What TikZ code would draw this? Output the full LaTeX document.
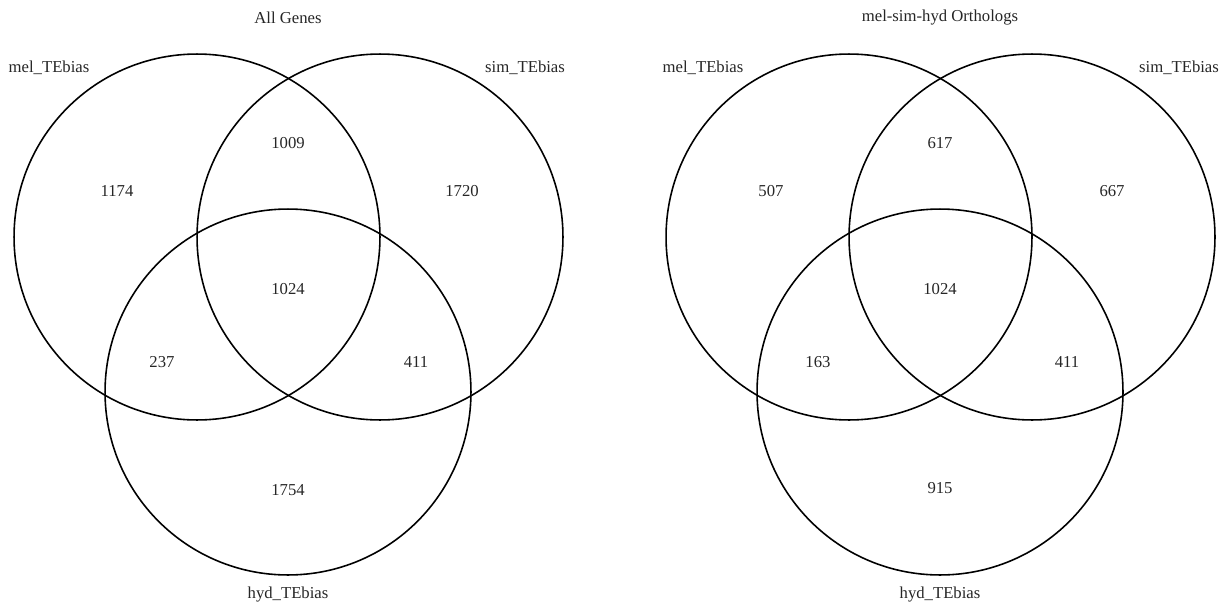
\documentclass[tikz,border=0pt]{standalone}
\usepackage{fontspec}
\setmainfont{Liberation Serif}
\usetikzlibrary{positioning, calc}

\begin{document}
\begin{tikzpicture}[
        x=0.02cm, y=-0.02cm,
        every node/.style={font=\fontsize{9.5}{11}\selectfont, text=black!85},
        setcircle/.style={draw, circle, line width=0.9pt, minimum size=7.32cm, inner sep=0pt},
        setlabel/.style={inner sep=1pt},
        count/.style={inner sep=1pt},
        title/.style={inner sep=1pt},
    ]
    \useasboundingbox (0,0) rectangle (1229,605);

    %% ===== All Genes =====
    \node[title] (titleA) at (288,18) {All Genes};
    \node[setcircle] (melA) at (197,237) {};
    \node[setcircle] (simA) at (380,237) {};
    \node[setcircle] (hydA) at (288,392) {};

    \node[setlabel] (melA_lab) at (49,68) {mel\_TEbias};
    \node[setlabel] (simA_lab) at (525,68) {sim\_TEbias};
    \node[setlabel] (hydA_lab) at (288,594) {hyd\_TEbias};

    \node[count] (a_mel) at (117,191) {1174};
    \node[count] (a_ms)  at (288,143) {1009};
    \node[count] (a_sim) at (462,191) {1720};
    \node[count] (a_all) at (288,289) {1024};
    \node[count] (a_mh)  at (162,362) {237};
    \node[count] (a_sh)  at (416,362) {411};
    \node[count] (a_hyd) at (288,490) {1754};

    %% ===== mel-sim-hyd Orthologs =====
    \node[title] (titleB) at (940,18) {mel-sim-hyd Orthologs};
    \node[setcircle] (melB) at (849,237) {};
    \node[setcircle] (simB) at (1032,237) {};
    \node[setcircle] (hydB) at (940,392) {};

    \node[setlabel] (melB_lab) at (703,68) {mel\_TEbias};
    \node[setlabel] (simB_lab) at (1179,68) {sim\_TEbias};
    \node[setlabel] (hydB_lab) at (940,594) {hyd\_TEbias};

    \node[count] (b_mel) at (771,191) {507};
    \node[count] (b_ms)  at (940,143) {617};
    \node[count] (b_sim) at (1112,191) {667};
    \node[count] (b_all) at (940,289) {1024};
    \node[count] (b_mh)  at (818,362) {163};
    \node[count] (b_sh)  at (1067,362) {411};
    \node[count] (b_hyd) at (940,488) {915};

\end{tikzpicture}
\end{document}
